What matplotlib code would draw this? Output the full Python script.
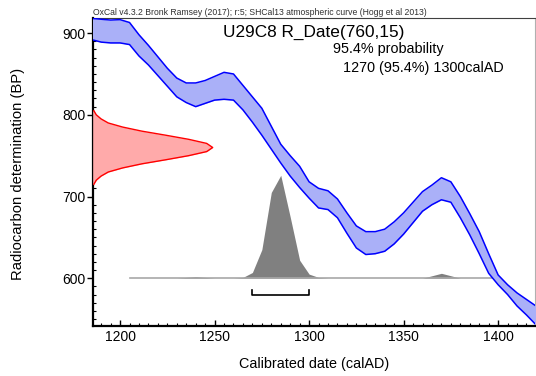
import numpy as np
import matplotlib
matplotlib.use("Agg")
import matplotlib.pyplot as plt
from matplotlib.ticker import MultipleLocator

plt.rcParams['font.family'] = ['Liberation Sans', 'DejaVu Sans']

# calibration curve band (SHCal13), upper and lower 1-sigma edges
cal_years = [1185, 1190, 1195, 1200, 1205, 1210, 1215, 1220, 1225, 1230, 1235, 1240,
             1245, 1250, 1255, 1260, 1265, 1270, 1275, 1280, 1285, 1290, 1295, 1300,
             1305, 1310, 1315, 1320, 1325, 1330, 1335, 1340, 1345, 1350, 1355, 1360,
             1365, 1370, 1375, 1380, 1385, 1390, 1395, 1400, 1405, 1410, 1415, 1420]
cal_upper = [918, 917, 916, 916.5, 913, 898, 885, 871, 857, 845, 839, 839,
             842, 847, 852, 850, 836, 822, 808, 786, 764, 750, 737, 718,
             710, 707, 697, 680, 664, 657, 657, 660, 669, 680, 693, 706,
             714, 723, 718, 700, 679, 657, 630, 604, 592, 582, 574, 566]
cal_lower = [892, 889, 888, 888, 886, 872, 861, 848, 835, 822, 815, 810,
             814, 818, 819, 818, 806, 791, 775, 758, 741, 725, 711, 698,
             686, 684, 674, 655, 637, 629, 630, 633, 642, 654, 668, 682,
             690, 696, 693, 674, 653, 630, 606, 592, 580, 566, 555, 543]

# radiocarbon measurement R_Date(760,15), relative density
r_bp = [805, 800, 795, 790, 785, 780, 775, 770, 765, 760, 755, 750,
        745, 740, 735, 730, 725, 720, 715]
r_dens = [0.01, 0.03, 0.07, 0.13, 0.25, 0.41, 0.61, 0.80, 0.95, 1.0, 0.95, 0.80,
          0.61, 0.41, 0.25, 0.13, 0.07, 0.03, 0.01]

# calibrated date distribution (height in BP units above the 600 baseline)
post_years = [1205, 1230, 1235, 1240, 1245, 1250, 1260, 1265, 1270, 1275, 1280, 1285,
              1290, 1295, 1300, 1305, 1310, 1360, 1365, 1370, 1375, 1380, 1400]
post_h = [0, 0, 1, 2, 1, 0, 0, 1, 7, 35, 105, 126,
          75, 22, 5, 1, 0, 0, 3, 6, 3, 0, 0]
post_base = 600

range_start, range_end = 1270, 1300

fig = plt.figure(figsize=(5.36, 3.76), dpi=100)
ax = fig.add_axes([0.1729, 0.1330, 0.8252, 0.8191])
ax.set_xlim(1185.5, 1419.5)
ax.set_ylim(541.5, 918.5)

# posterior
py = post_base + np.array(post_h)
ax.fill_between(post_years, post_base, py, color='#808080', lw=0, zorder=2)
ax.plot([post_years[0], post_years[-1]], [post_base, post_base], color='#a8a8a8', lw=1.2, zorder=2)

# calibration curve
ax.fill_between(cal_years, cal_lower, cal_upper, color='#aab0f8', lw=0, zorder=3)
ax.plot(cal_years, cal_upper, color='#0000ff', lw=1.1, zorder=4)
ax.plot(cal_years, cal_lower, color='#0000ff', lw=1.1, zorder=4)

# measurement on the y axis
x0 = ax.get_xlim()[0]
rx = x0 + 63.5 * np.array(r_dens)
ax.fill_betweenx(r_bp, x0, rx, color='#ffaaaa', lw=0, zorder=3, clip_on=False)
ax.plot(rx, r_bp, color='#ff0000', lw=1.0, zorder=4)

# 95.4% range bracket
yb = 579
ax.plot([range_start, range_start, range_end, range_end], [yb + 6, yb, yb, yb + 6],
        color='black', lw=1.2, zorder=5)

# axes styling
for s in ['left', 'bottom']:
    ax.spines[s].set_linewidth(1.6)
ax.spines['top'].set_linewidth(0.8)
ax.spines['top'].set_color('#404040')
ax.spines['right'].set_linewidth(0.8)
ax.spines['right'].set_color('#b0b0b0')

ax.xaxis.set_major_locator(MultipleLocator(50))
ax.xaxis.set_minor_locator(MultipleLocator(5))
ax.yaxis.set_major_locator(MultipleLocator(100))
ax.yaxis.set_minor_locator(MultipleLocator(10))
ax.tick_params(axis='x', which='major', direction='in', length=4.5, width=1.0, labelsize=10, pad=3)
ax.tick_params(axis='x', which='minor', direction='in', length=2.3, width=0.8)
ax.tick_params(axis='y', which='major', direction='out', length=4, width=1.0, labelsize=10, pad=1)
ax.tick_params(axis='y', which='minor', direction='in', length=2, width=0.8)

ax.text(0.5, 0.979, 'U29C8 R_Date(760,15)', transform=ax.transAxes, ha='center', va='top', fontsize=12.4)
ax.text(0.5426, 0.921, '95.4% probability', transform=ax.transAxes, ha='left', va='top', fontsize=10.4)
ax.text(0.5652, 0.859, '1270 (95.4%) 1300calAD', transform=ax.transAxes, ha='left', va='top', fontsize=10.4)

fig.text(0.174, 0.955, 'OxCal v4.3.2 Bronk Ramsey (2017); r:5; SHCal13 atmospheric curve (Hogg et al 2013)',
         ha='left', va='bottom', fontsize=6.2, color='#303030')
fig.text(0.033, 0.537, 'Radiocarbon determination (BP)', rotation=90, ha='center', va='center', fontsize=10.6)
fig.text(0.586, 0.032, 'Calibrated date (calAD)', ha='center', va='center', fontsize=10.4)

fig.savefig('out.png', dpi=100)
